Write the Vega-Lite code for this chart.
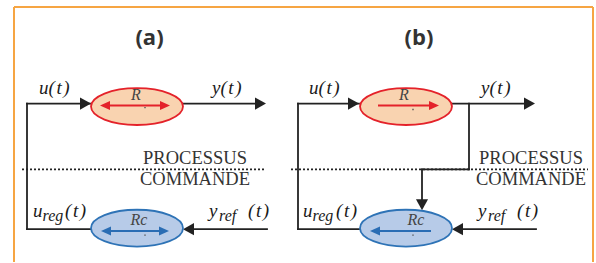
{
  "$schema": "https://vega.github.io/schema/vega-lite/v6.json",
  "width": 596,
  "height": 263,
  "padding": 0,
  "autosize": {"type": "fit", "contains": "padding"},
  "background": "white",
  "config": {"view": {"stroke": null}},
  "datasets": {
    "frame": [
      {"x": 14, "y": 263, "x2": 14, "y2": 7},
      {"x": 14, "y": 7, "x2": 593, "y2": 7},
      {"x": 593, "y": 7, "x2": 593, "y2": 263}
    ],
    "wires": [
      {"x": 27, "y": 104, "x2": 91, "y2": 104},
      {"x": 27, "y": 104, "x2": 27, "y2": 230},
      {"x": 27, "y": 230, "x2": 91, "y2": 230},
      {"x": 183, "y": 104, "x2": 262, "y2": 104},
      {"x": 187, "y": 230, "x2": 267, "y2": 230},
      {"x": 298, "y": 104, "x2": 359, "y2": 104},
      {"x": 298, "y": 104, "x2": 298, "y2": 230},
      {"x": 298, "y": 230, "x2": 359, "y2": 230},
      {"x": 452, "y": 104, "x2": 531, "y2": 104},
      {"x": 469, "y": 104, "x2": 469, "y2": 170},
      {"x": 422, "y": 170, "x2": 469, "y2": 170},
      {"x": 422, "y": 170, "x2": 422, "y2": 207},
      {"x": 456, "y": 230, "x2": 536, "y2": 230}
    ],
    "dotted": [
      {"x": 22, "y": 170, "x2": 265, "y2": 170},
      {"x": 291, "y": 170, "x2": 588, "y2": 170}
    ],
    "heads": [
      {"x": 91, "y": 104, "angle": 0},
      {"x": 266, "y": 104, "angle": 0},
      {"x": 183, "y": 230, "angle": 180},
      {"x": 359, "y": 104, "angle": 0},
      {"x": 535, "y": 104, "angle": 0},
      {"x": 452, "y": 230, "angle": 180},
      {"x": 422, "y": 211, "angle": 90}
    ],
    "ellipses": [
      {"x": 137, "y": 107, "kind": "R"},
      {"x": 406, "y": 107, "kind": "R"},
      {"x": 137, "y": 229, "kind": "Rc"},
      {"x": 406, "y": 229, "kind": "Rc"}
    ],
    "innerLines": [
      {"x": 104, "y": 106, "x2": 166, "y2": 106, "kind": "R"},
      {"x": 104, "y": 232, "x2": 166, "y2": 232, "kind": "Rc"},
      {"x": 378, "y": 106, "x2": 435, "y2": 106, "kind": "R"},
      {"x": 374, "y": 232, "x2": 431, "y2": 232, "kind": "Rc"}
    ],
    "innerHeads": [
      {"x": 100, "y": 106, "angle": 180, "kind": "R"},
      {"x": 170, "y": 106, "angle": 0, "kind": "R"},
      {"x": 101, "y": 232, "angle": 180, "kind": "Rc"},
      {"x": 169, "y": 232, "angle": 0, "kind": "Rc"},
      {"x": 439, "y": 106, "angle": 0, "kind": "R"},
      {"x": 370, "y": 232, "angle": 180, "kind": "Rc"}
    ],
    "dots": [
      {"x": 145, "y": 108},
      {"x": 145, "y": 236},
      {"x": 413, "y": 110},
      {"x": 413, "y": 236}
    ],
    "titles": [
      {"x": 149.5, "y": 38, "text": "(a)"},
      {"x": 419, "y": 38, "text": "(b)"}
    ],
    "math": [
      {"x": 39, "y": 94, "text": "u(\u200at\u200a)"},
      {"x": 212, "y": 94, "text": "y(\u200at\u200a)"},
      {"x": 33, "y": 218, "text": "u"},
      {"x": 65, "y": 218, "text": "(\u200at\u200a)"},
      {"x": 209, "y": 218, "text": "y"},
      {"x": 248, "y": 218, "text": "(\u200at\u200a)"},
      {"x": 309, "y": 94, "text": "u(\u200at\u200a)"},
      {"x": 481, "y": 94, "text": "y(\u200at\u200a)"},
      {"x": 303, "y": 218, "text": "u"},
      {"x": 336, "y": 218, "text": "(\u200at\u200a)"},
      {"x": 478, "y": 218, "text": "y"},
      {"x": 517, "y": 218, "text": "(\u200at\u200a)"}
    ],
    "subs": [
      {"x": 42.5, "y": 222, "text": "reg"},
      {"x": 219, "y": 222, "text": "ref"},
      {"x": 312.5, "y": 222, "text": "reg"},
      {"x": 488, "y": 222, "text": "ref"}
    ],
    "blockNames": [
      {"x": 136, "y": 100, "text": "R"},
      {"x": 139, "y": 226, "text": "Rc"},
      {"x": 404, "y": 100, "text": "R"},
      {"x": 416, "y": 226, "text": "Rc"}
    ],
    "zones": [
      {"x": 195, "y": 165, "text": "PROCESSUS"},
      {"x": 195, "y": 186, "text": "COMMANDE"},
      {"x": 531, "y": 165, "text": "PROCESSUS"},
      {"x": 531, "y": 186, "text": "COMMANDE"}
    ]
  },
  "encoding": {
    "x": {"field": "x", "type": "quantitative", "scale": {"domain": [0, 596], "nice": false, "zero": false}, "axis": null},
    "y": {"field": "y", "type": "quantitative", "scale": {"domain": [0, 263], "nice": false, "zero": false, "reverse": true}, "axis": null}
  },
  "layer": [
    {
      "data": {"name": "frame"},
      "mark": {"type": "rule", "color": "#f6a543", "strokeWidth": 2},
      "encoding": {"x2": {"field": "x2"}, "y2": {"field": "y2"}}
    },
    {
      "data": {"name": "dotted"},
      "mark": {"type": "rule", "color": "#222222", "strokeWidth": 1.6, "strokeDash": [2, 2]},
      "encoding": {"x2": {"field": "x2"}, "y2": {"field": "y2"}}
    },
    {
      "data": {"name": "wires"},
      "mark": {"type": "rule", "color": "#222222", "strokeWidth": 1.8, "strokeCap": "square"},
      "encoding": {"x2": {"field": "x2"}, "y2": {"field": "y2"}}
    },
    {
      "data": {"name": "heads"},
      "mark": {"type": "point", "filled": true, "opacity": 1, "color": "#222222", "shape": "M-2,-1.1L0,0L-2,1.1Z", "size": 121},
      "encoding": {"angle": {"field": "angle", "type": "quantitative", "scale": null}}
    },
    {
      "data": {"name": "ellipses"},
      "mark": {"type": "point", "filled": true, "opacity": 1, "strokeWidth": 1.8, "shape": "M-1,0A1,0.4,0,1,1,1,0A1,0.4,0,1,1,-1,0Z", "size": 8464},
      "encoding": {
        "fill": {"field": "kind", "type": "nominal", "scale": {"domain": ["R", "Rc"], "range": ["#f9d3b0", "#b7cbe8"]}, "legend": null},
        "stroke": {"field": "kind", "type": "nominal", "scale": {"domain": ["R", "Rc"], "range": ["#e4222a", "#2e73b6"]}, "legend": null}
      }
    },
    {
      "data": {"name": "innerLines"},
      "mark": {"type": "rule", "strokeWidth": 2},
      "encoding": {
        "x2": {"field": "x2"}, "y2": {"field": "y2"},
        "color": {"field": "kind", "type": "nominal", "scale": {"domain": ["R", "Rc"], "range": ["#e4222a", "#2a6db4"]}, "legend": null}
      }
    },
    {
      "data": {"name": "innerHeads"},
      "mark": {"type": "point", "filled": true, "opacity": 1, "shape": "M-2,-0.9L0,0L-2,0.9Z", "size": 100},
      "encoding": {
        "angle": {"field": "angle", "type": "quantitative", "scale": null},
        "color": {"field": "kind", "type": "nominal", "scale": {"domain": ["R", "Rc"], "range": ["#e4222a", "#2a6db4"]}, "legend": null}
      }
    },
    {
      "data": {"name": "dots"},
      "mark": {"type": "point", "filled": true, "opacity": 1, "color": "#555555", "shape": "square", "size": 2}
    },
    {
      "data": {"name": "titles"},
      "mark": {"type": "text", "font": "Open Sans", "fontWeight": "bold", "fontSize": 22, "color": "#333333", "align": "center", "baseline": "middle"},
      "encoding": {"text": {"field": "text"}}
    },
    {
      "data": {"name": "math"},
      "mark": {"type": "text", "font": "Liberation Serif", "fontStyle": "oblique", "fontSize": 19, "color": "#1a1a1a", "align": "left", "baseline": "alphabetic"},
      "encoding": {"text": {"field": "text"}}
    },
    {
      "data": {"name": "subs"},
      "mark": {"type": "text", "font": "Liberation Serif", "fontStyle": "oblique", "fontSize": 16, "color": "#1a1a1a", "align": "left", "baseline": "alphabetic"},
      "encoding": {"text": {"field": "text"}}
    },
    {
      "data": {"name": "blockNames"},
      "mark": {"type": "text", "font": "Liberation Serif", "fontStyle": "oblique", "fontSize": 16, "color": "#444444", "align": "center", "baseline": "alphabetic"},
      "encoding": {"text": {"field": "text"}}
    },
    {
      "data": {"name": "zones"},
      "mark": {"type": "text", "font": "Liberation Serif", "fontSize": 18.5, "color": "#333333", "align": "center", "baseline": "alphabetic"},
      "encoding": {"text": {"field": "text"}}
    }
  ]
}
